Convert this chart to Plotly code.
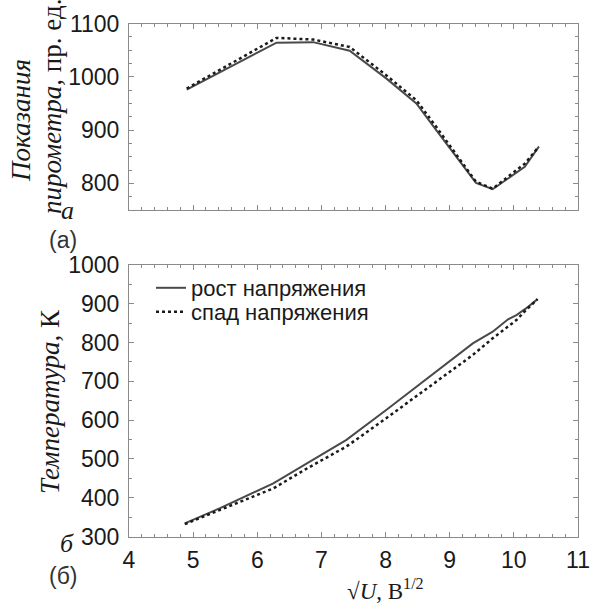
import plotly.graph_objects as go

W, H = 590, 607

# Top panel (a): pyrometer readings
xa_up = [4.90, 6.30, 6.87, 7.44, 8.01, 8.48, 8.79, 9.10, 9.41, 9.67, 10.17, 10.39]
ya_up = [976, 1064, 1065, 1049, 997, 950, 900, 850, 801, 789, 831, 869]
xa_dn = [4.90, 6.30, 6.87, 7.44, 8.01, 8.48, 8.79, 9.10, 9.41, 9.67, 10.17, 10.39]
ya_dn = [978, 1073, 1070, 1056, 1003, 956, 906, 855, 803, 790, 837, 869]

# Bottom panel (б): temperature
xb_up = [4.87, 5.42, 6.25, 6.77, 7.39, 8.01, 8.79, 9.36, 9.67, 9.91, 10.04, 10.19, 10.37]
yb_up = [334, 373, 437, 489, 549, 626, 725, 798, 828, 860, 871, 888, 912]
xb_dn = [4.87, 5.42, 6.25, 6.77, 7.39, 8.01, 8.79, 9.36, 9.67, 10.04, 10.19, 10.37]
yb_dn = [332, 368, 424, 475, 532, 605, 699, 768, 811, 858, 884, 912]

names = ["рост напряжения", "спад напряжения"]
solid_col = "#4a4a4a"
dot_col = "#1a1a1a"
txt_col = "#1a1a1a"
frame_col = "#8a8a8a"

fig = go.Figure()
fig.add_trace(go.Scatter(x=xa_up, y=ya_up, mode="lines", line=dict(color=solid_col, width=2),
                         xaxis="x", yaxis="y", showlegend=False))
fig.add_trace(go.Scatter(x=xa_dn, y=ya_dn, mode="lines", line=dict(color=dot_col, width=2.5, dash="dot"),
                         xaxis="x", yaxis="y", showlegend=False))
fig.add_trace(go.Scatter(x=xb_up, y=yb_up, mode="lines", name=names[0], legend="legend",
                         line=dict(color=solid_col, width=2), xaxis="x2", yaxis="y2"))
fig.add_trace(go.Scatter(x=xb_dn, y=yb_dn, mode="lines", name=names[1], legend="legend2",
                         line=dict(color=dot_col, width=2.5, dash="dot"), xaxis="x2", yaxis="y2"))

def px(v):
    return v / W

def py(v):
    return 1 - v / H

tickfont = dict(family="Liberation Sans, Arial", size=23, color=txt_col)
common = dict(showline=True, linecolor=frame_col, linewidth=1, mirror="ticks",
              ticks="inside", ticklen=5, tickcolor=frame_col, showgrid=False,
              zeroline=False, tickfont=tickfont)

legfont = dict(family="Liberation Sans, Arial", size=22, color=txt_col)
xdom = [px(129), px(578)]
fig.update_layout(
    width=W, height=H, margin=dict(l=0, r=0, t=0, b=0, autoexpand=False),
    paper_bgcolor="white", plot_bgcolor="white",
    xaxis=dict(domain=xdom, range=[4, 11], dtick=1, showticklabels=False, anchor="y",
               minor=dict(dtick=0.2, ticks="inside", ticklen=3, tickcolor=frame_col), **common),
    yaxis=dict(domain=[py(210), py(23.5)], range=[750, 1100], dtick=100, anchor="x",
               ticklabelstandoff=4,
               minor=dict(dtick=25, ticks="inside", ticklen=3, tickcolor=frame_col), **common),
    xaxis2=dict(domain=xdom, range=[4, 11], dtick=1, anchor="y2", ticklabelstandoff=3,
                minor=dict(dtick=0.2, ticks="inside", ticklen=3, tickcolor=frame_col), **common),
    yaxis2=dict(domain=[py(536.5), py(265)], range=[300, 1000], dtick=100, anchor="x2",
                ticklabelstandoff=4,
                minor=dict(dtick=50, ticks="inside", ticklen=3, tickcolor=frame_col), **common),
    legend=dict(x=px(151), y=py(288), xanchor="left", yanchor="middle",
                bgcolor="rgba(0,0,0,0)", borderwidth=0, font=legfont),
    legend2=dict(x=px(151), y=py(312), xanchor="left", yanchor="middle",
                 bgcolor="rgba(0,0,0,0)", borderwidth=0, font=legfont),
    showlegend=True,
)

serif = "Liberation Serif, Times New Roman"
ann = [
    dict(text="<i>Показания</i>", x=px(21), y=py(121), textangle=-90, size=27),
    dict(text="<i>пирометра,</i> пр. ед.", x=px(52), y=py(107), textangle=-90, size=27),
    dict(text="<i>Температура,</i> К", x=px(50), y=py(402), textangle=-90, size=27),
    dict(text="<i>a</i>", x=px(67), y=py(210), textangle=0, size=26),
    dict(text="<i>б</i>", x=px(67), y=py(543), textangle=0, size=26),
    dict(text="√<i>U</i>, В<sup>1/2</sup>", x=px(385), y=py(589), textangle=0, size=23),
]
for a in ann:
    fig.add_annotation(text=a["text"], x=a["x"], y=a["y"], xref="paper", yref="paper",
                       xanchor="center", yanchor="middle", showarrow=False, textangle=a["textangle"],
                       font=dict(family=serif, size=a["size"], color=txt_col))

for t, xx, yy in [("(a)", 63, 240), ("(б)", 63, 576)]:
    fig.add_annotation(text=t, x=px(xx), y=py(yy), xref="paper", yref="paper",
                       xanchor="center", yanchor="middle", showarrow=False,
                       font=dict(family="Liberation Sans, Arial", size=23, color="#333333"))

fig.write_html("out.html")
